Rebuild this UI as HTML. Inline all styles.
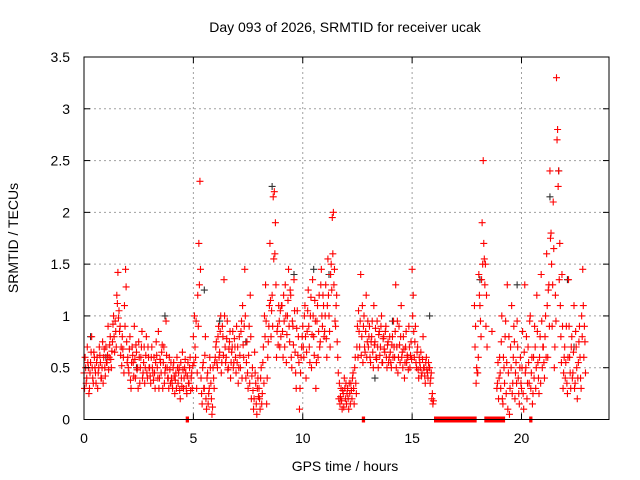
<!DOCTYPE html>
<html><head><meta charset="utf-8"><style>
body{margin:0;background:#fff}
svg{display:block;font-family:"Liberation Sans",sans-serif}
</style></head><body>
<svg id="chart" width="640" height="480" viewBox="0 0 640 480" xmlns="http://www.w3.org/2000/svg">
<text x="345" y="32" font-size="14" text-anchor="middle">Day 093 of 2026, SRMTID for receiver ucak</text>
<text x="345" y="471" font-size="14" text-anchor="middle">GPS time / hours</text>
<text transform="translate(18,238) rotate(-90)" font-size="14" text-anchor="middle">SRMTID / TECUs</text>
<g id="grid"></g>
<g id="marks"></g>
<rect x="84" y="57" width="525" height="362.5" fill="none" stroke="#000" stroke-width="1"/>
<g id="ticks"></g>
</svg>
<script>
const xTicks=[0,5,10,15,20];
const yTicks=[0,0.5,1,1.5,2,2.5,3,3.5];
const yTickLabels=["0","0.5","1","1.5","2","2.5","3","3.5"];
const sampleStep=0.05;
const N=null;
const values=[
.45,.6,.35,.7,.5,.3,.55,.8,.4,.65,.5,.35,.6,.45,.7,.55,.4,.75,.6,.5,
.7,.55,.9,.6,.8,.5,.75,1.0,.65,.85,1.2,1.42,1.05,.9,.7,.8,.6,1.1,1.45,.75,
.6,.45,.8,.3,.7,.55,.9,.4,.65,.5,.75,.35,.6,.85,.45,.7,.5,.8,.4,.6,
.5,.35,.7,.45,.6,.3,.75,.5,.85,.4,.55,.65,.3,.7,.45,.95,.5,.4,.6,.35,
.4,.3,.55,.25,.45,.6,.35,.5,.2,.4,.65,.3,.5,.45,.25,.55,.35,.6,.4,.3,
.8,1.0,.6,.3,1.2,1.7,2.3,.4,.15,.55,.3,.8,.1,.45,.25,.6,.35,.05,.5,.3,
.6,.75,.5,.9,.65,1.0,.55,.8,1.35,.7,.6,.95,.5,.75,.4,.65,.85,.55,.7,.45,
.55,.35,.8,.5,.95,1.1,.6,1.45,.4,.75,.3,.9,1.2,.2,.5,.1,.65,.35,.05,.4,
.3,.1,.5,.25,.7,1.0,1.3,.15,.6,.9,1.7,.8,1.2,2.15,2.2,1.9,.6,.9,1.1,.7,
.8,1.1,.6,.95,1.3,.55,1.0,1.45,.75,1.2,.5,.9,1.35,.65,.3,1.05,.8,.1,.45,.7,
.9,.6,1.1,.4,.85,1.25,.7,1.0,.5,1.35,.8,1.15,.3,.95,.6,1.2,.75,1.45,.9,1.1,
.85,1.3,.6,1.55,1.0,.7,1.5,1.95,2.0,1.45,.9,1.2,.6,.2,.15,.3,.1,.25,.4,.2,
.15,.3,.1,.25,.35,.2,.45,.15,.6,.25,.9,1.05,.7,1.4,.8,.55,1.0,.65,1.2,.75,
.7,.9,.55,.8,.65,1.1,.75,.6,.95,.5,.85,.7,1.0,.55,.8,.65,.9,.5,.75,.6,
.65,.5,.8,.95,.6,1.3,.7,.45,.9,.55,1.1,.65,.8,.4,.7,.55,.6,.9,.5,.75,
1.45,1.2,.6,.9,.5,.7,.4,.55,.65,.45,.8,.5,.35,.6,.45,.55,.5,.4,.2,.15,
N,N,N,N,N,N,N,N,N,N,N,N,N,N,N,N,N,N,N,N,
N,N,N,N,N,N,N,N,N,N,N,N,N,N,N,N,N,1.1,.9,.5,
.45,1.4,1.1,.8,1.9,2.5,1.55,1.5,1.2,N,N,N,N,.85,N,N,N,N,.35,.2,
.6,.3,1.0,.15,.5,.8,.25,1.3,.45,.05,.7,1.1,.35,.9,.2,.55,.95,.4,.15,.6,
.3,.85,.1,1.3,.5,.2,.7,.35,1.0,.45,.15,.6,.9,.3,1.2,.55,.25,.8,1.4,.5,
.7,.4,1.0,1.6,.6,1.3,2.4,1.8,.9,2.1,.5,1.2,3.3,2.8,2.4,1.7,.8,1.4,.3,.6,
.4,.9,.25,1.35,.6,.3,.8,.45,1.1,.35,.7,.2,.55,.9,.4,1.0,1.45,.6,.75,N
];
const values2=[
.3,.5,.4,.55,.25,.45,.65,.5,.35,.6,.45,.55,.3,.5,.62,.4,.5,.35,.68,.42,
.55,.62,.48,.72,.58,.66,.92,.8,.95,.7,1.12,.98,.85,.62,.52,.68,.45,.9,1.28,.55,
.5,.68,.38,.55,.62,.42,.58,.72,.48,.3,.6,.5,.7,.4,.55,.35,.62,.45,.7,.5,
.42,.6,.5,.38,.45,.55,.62,.4,.3,.58,.45,.72,.55,.35,.5,.62,.4,.3,.48,.55,
.35,.5,.42,.38,.3,.5,.45,.28,.55,.32,.48,.4,.58,.3,.42,.35,.5,.28,.45,.52,
.55,.7,.95,.45,.9,1.3,1.45,.25,.5,.3,.62,.2,.4,.15,.3,.5,.2,.12,.4,.55,
.7,.55,.8,.6,.85,.45,.9,.62,1.0,.55,.78,.48,.68,.85,.55,.7,.5,.78,.6,.9,
.7,.5,.62,.85,.4,.72,.9,1.0,.55,.45,.62,.35,.8,.42,.28,.2,.45,.15,.3,.22,
.2,.4,.15,.55,.35,.8,.95,.4,.75,1.1,1.15,1.05,.9,1.55,1.6,1.3,.85,.72,.95,1.05,
1.1,.85,1.2,.7,1.0,.82,1.15,.9,1.25,.6,.95,.72,1.05,.45,.88,.62,.55,.3,.6,.8,
.7,1.0,.8,.65,1.05,.9,.55,1.18,.82,1.0,.62,.95,.55,1.1,.85,.7,1.3,1.0,1.2,.8,
1.0,.78,1.1,1.2,.85,1.4,1.25,1.6,1.3,.95,1.1,.75,.45,.35,.22,.18,.28,.12,.3,.35,
.25,.2,.35,.15,.28,.4,.3,.5,.35,.7,.6,.85,.95,.62,1.1,.9,.7,.85,.6,.95,
.8,.6,.75,.95,.5,.72,.88,.58,.7,.82,.62,.9,.55,.78,.68,.85,.6,.72,.55,.8,
.55,.72,.6,.7,.85,.5,.95,.6,.72,.8,.6,.5,.68,.55,.85,.62,.48,.7,.62,.58,
1.0,.85,.75,.55,.65,.48,.6,.5,.42,.58,.5,.42,.55,.48,.4,.5,.35,.45,.25,.18,
N,N,N,N,N,N,N,N,N,N,N,N,N,N,N,N,N,N,N,N,
N,N,N,N,N,N,N,N,N,N,N,N,N,N,N,N,N,.7,.35,.45,
.6,1.2,.95,1.35,1.5,1.7,1.3,.9,.7,N,N,N,N,N,N,N,N,.3,.55,.4,
.45,.75,.2,.6,.35,.95,.55,.1,.8,.3,.5,.25,.6,.75,.45,.35,.7,.25,.5,.35,
.5,.25,.65,.45,.8,.35,.55,.95,.3,.6,.25,.4,.7,.5,.85,.4,.6,.35,.95,.7,
.55,.8,.6,1.1,1.25,.9,1.75,1.5,1.3,1.65,.7,.95,2.7,2.25,1.35,1.1,.55,.9,.45,.7,
.55,.35,.6,.9,.45,.7,.4,.65,.3,.85,.5,.4,.75,.6,.3,.8,1.1,.9,.45,N
];
const darkTimes=[0.3,1.0,2.4,3.7,5.5,6.2,7.4,8.6,9.6,10.5,11.2,13.3,14.1,15.8,18.1,19.8,21.3,21.7,22.1,22.4];
const darkValues=[0.8,0.6,0.5,1.0,1.25,0.95,0.75,2.25,1.4,1.45,1.4,0.4,0.95,1.0,1.35,1.3,2.15,2.4,1.35,0.7];
const gapStarts=[4.65,12.7,16.0,18.3,20.35];
const gapEnds=[4.8,12.85,17.95,19.25,20.5];

const X0=84,X1=609,Y0=419.5,Y1=57,XMAX=24,YMAX=3.5;
const xs=v=>X0+(v/XMAX)*(X1-X0);
const ys=v=>Y0-(v/YMAX)*(Y0-Y1);
const NS="http://www.w3.org/2000/svg";
function mk(tag,attrs,parent){const e=document.createElementNS(NS,tag);for(const k in attrs)e.setAttribute(k,attrs[k]);parent.appendChild(e);return e;}
const grid=document.getElementById('grid'),ticks=document.getElementById('ticks'),marks=document.getElementById('marks');
xTicks.forEach(t=>{
  const x=xs(t);
  if(t>0){const g=mk('line',{x1:x,x2:x,y1:Y1,y2:Y0,stroke:'#a0a0a0','stroke-dasharray':'2,3'},grid);
  
  }
  mk('line',{x1:x,x2:x,y1:Y0,y2:Y0-6,stroke:'#000'},ticks);
  mk('line',{x1:x,x2:x,y1:Y1,y2:Y1+6,stroke:'#000'},ticks);
  const l=mk('text',{x:x,y:443,'font-size':14,'text-anchor':'middle'},ticks);l.textContent=String(t);
  
  
});
yTicks.forEach((t,i)=>{
  const y=ys(t);
  if(t>0&&t<YMAX){const g=mk('line',{x1:X0,x2:X1,y1:y,y2:y,stroke:'#a0a0a0','stroke-dasharray':'2,3'},grid);
  
  }
  mk('line',{x1:X0,x2:X0+6,y1:y,y2:y,stroke:'#000'},ticks);
  mk('line',{x1:X1,x2:X1-6,y1:y,y2:y,stroke:'#000'},ticks);
  const l=mk('text',{x:70,y:y+5,'font-size':14,'text-anchor':'end'},ticks);l.textContent=yTickLabels[i];
  
  
});
function plus(x,y,c,name){
  const p=mk('path',{d:`M${x-3.5},${y}h7M${x},${y-3.5}v7`,stroke:c,'stroke-width':1.1,fill:'none'},marks);
  
  
}
darkTimes.forEach((t,i)=>plus(xs(t),ys(darkValues[i]),'#333','dark-point'));
values.forEach((v,i)=>{if(v!==null)plus(xs(i*sampleStep),ys(v),'#f00','srmtid-point');});
values2.forEach((v,i)=>{if(v!==null)plus(xs(i*sampleStep+sampleStep/2),ys(v),'#f00','srmtid-point-b');});
gapStarts.forEach((s,i)=>{
  const r=mk('rect',{x:xs(s),y:Y0-3,width:xs(gapEnds[i])-xs(s),height:6,fill:'#f00'},marks);
  
  
});
</script>
</body></html>
